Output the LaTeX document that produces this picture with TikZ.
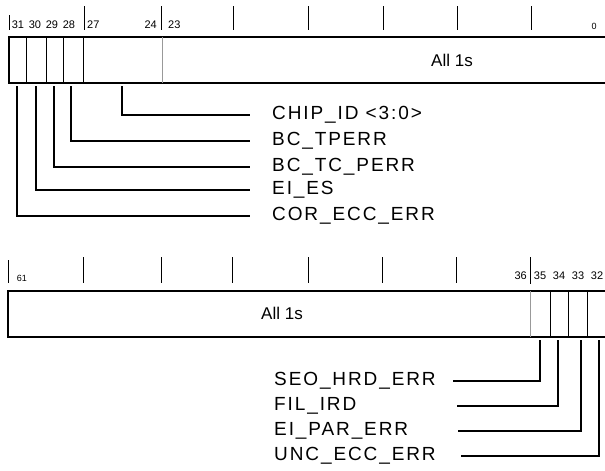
\documentclass[tikz,border=0pt]{standalone}
\usepackage{fontspec}
\setmainfont{Liberation Sans}
\newfontfamily\lblfont[LetterSpace=10]{Liberation Sans}
\usetikzlibrary{positioning}
\tikzset{
    x=1pt, y=-1pt, % one unit per pixel, y runs downwards
    regbox/.style={line width=1.4pt}, % outline of a register
    divider/.style={line width=0.6pt}, % lines between single bits
    softdiv/.style={line width=0.9pt, gray!80}, % boundary of the all-ones field
    bittick/.style={line width=0.6pt}, % scale marks above a register
    bitnum/.style={font=\fontsize{11}{11}\selectfont, inner sep=0pt}, % bit numbers
    endnum/.style={font=\fontsize{9}{9}\selectfont, inner sep=0pt}, % first and last bit numbers
    fill1s/.style={font=\fontsize{17}{17}\selectfont, inner sep=0pt}, % field text
    field/.style={font=\lblfont\fontsize{19}{19}\selectfont, inner sep=0pt, anchor=west}, % field names
    conn/.style={line width=1.6pt}, % leader lines
}
\begin{document}
\begin{tikzpicture}
\useasboundingbox (0,0) rectangle (605,471);
% upper register, bits 31..0
\draw[bittick] (9,15) -- (9,30);
\foreach \x in {84,161,233,308,383,457,531}
    \draw[bittick] (\x,6) -- (\x,30);
\node[bitnum] at (18,25) {31};
\node[bitnum] at (35,25) {30};
\node[bitnum] at (52,25) {29};
\node[bitnum] at (69,25) {28};
\node[bitnum, anchor=west] at (87,25) {27};
\node[bitnum, anchor=east] at (157,25) {24};
\node[bitnum, anchor=west] at (168,25) {23};
\node[endnum] at (594,26) {0};
\draw[regbox] (9,37) rectangle (608,83);
\foreach \x in {26,46,63,83}
    \draw[divider] (\x,37) -- (\x,83);
\draw[softdiv] (162,37) -- (162,83);
\node[fill1s] (all1) at (452,60) {All 1s};
% bit positions of the upper fields
\coordinate (b31) at (17,86);
\coordinate (b30) at (36,86);
\coordinate (b29) at (54,86);
\coordinate (b28) at (71,86);
\coordinate (b24) at (122,86);
\node[field] (chip) at (272,115) {CHIP\_ID <3:0>};
\node[field] (tperr) at (272,141) {BC\_TPERR};
\node[field] (tcperr) at (272,167) {BC\_TC\_PERR};
\node[field] (eies) at (272,190) {EI\_ES};
\node[field] (corecc) at (272,216) {COR\_ECC\_ERR};
\draw[conn] (b24) |- ([xshift=-22pt]chip.west);
\draw[conn] (b28) |- ([xshift=-22pt]tperr.west);
\draw[conn] (b29) |- ([xshift=-22pt]tcperr.west);
\draw[conn] (b30) |- ([xshift=-22pt]eies.west);
\draw[conn] (b31) |- ([xshift=-22pt]corecc.west);
% lower register, bits 61..32
\draw[bittick] (8,260) -- (8,283);
\foreach \x in {83,161,232,308,382,456}
    \draw[bittick] (\x,257) -- (\x,283);
\draw[bittick] (530,257) -- (530,284);
\node[endnum] at (22,278) {61};
\node[bitnum, anchor=east] at (527,276) {36};
\node[bitnum] at (540,276) {35};
\node[bitnum] at (559,276) {34};
\node[bitnum] at (578,276) {33};
\node[bitnum] at (597,276) {32};
\draw[regbox] (8,291) rectangle (608,337);
\draw[softdiv] (530,291) -- (530,337);
\foreach \x in {550,568,587}
    \draw[divider] (\x,291) -- (\x,337);
\node[fill1s] (all1b) at (282,313) {All 1s};
% bit positions of the lower fields
\coordinate (b35) at (540,340);
\coordinate (b34) at (558,340);
\coordinate (b33) at (581,340);
\coordinate (b32) at (599,340);
\node[field] (seo) at (274,381) {SEO\_HRD\_ERR};
\node[field] (filird) at (274,406) {FIL\_IRD};
\node[field] (eipar) at (274,431) {EI\_PAR\_ERR};
\node[field] (uncecc) at (274,456) {UNC\_ECC\_ERR};
\coordinate (j35) at (453,0);
\coordinate (j34) at (457,0);
\coordinate (j33) at (458,0);
\coordinate (j32) at (461,0);
\draw[conn] (b35) |- (j35 |- seo.west);
\draw[conn] (b34) |- (j34 |- filird.west);
\draw[conn] (b33) |- (j33 |- eipar.west);
\draw[conn] (b32) |- (j32 |- uncecc.west);
\end{tikzpicture}
\end{document}
